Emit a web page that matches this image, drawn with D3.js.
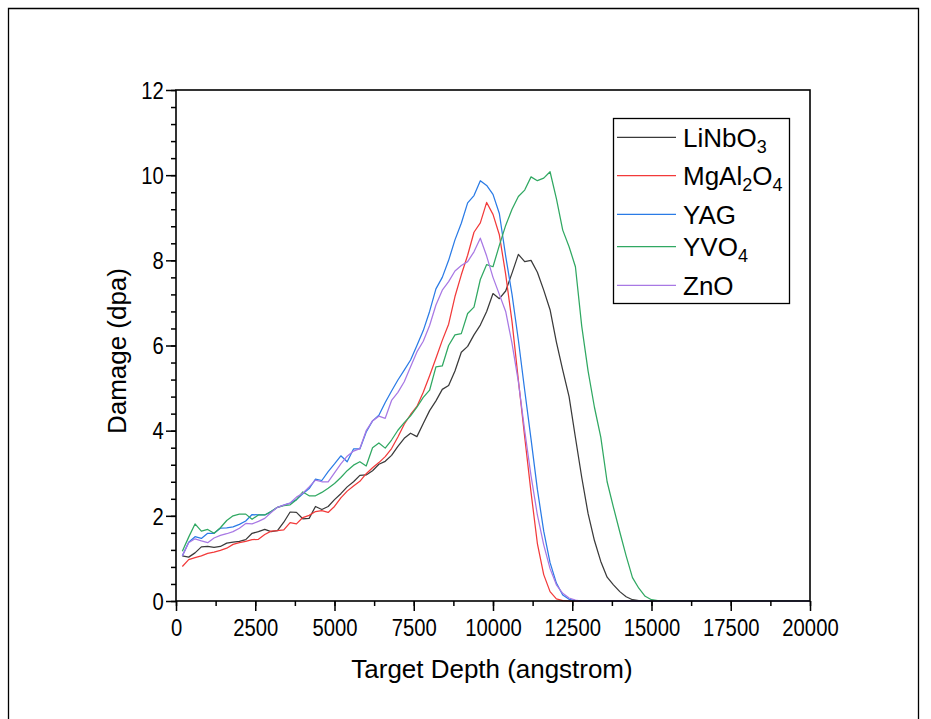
<!DOCTYPE html>
<html><head><meta charset="utf-8">
<script src="https://cdn.jsdelivr.net/npm/d3@7"></script>
<style>
html,body{margin:0;padding:0;background:#fff;}
text{font-family:"Liberation Sans",Arial,sans-serif;fill:#000;}
</style></head>
<body><svg id="chart" width="931" height="719"></svg>
<script>
const depth = [200,400,600,800,1000,1200,1400,1600,1800,2000,2200,2400,2600,2800,3000,3200,3400,3600,3800,4000,
4200,4400,4600,4800,5000,5200,5400,5600,5800,6000,6200,6400,6600,6800,7000,7200,7400,7600,7800,8000,
8200,8400,8600,8800,9000,9200,9400,9600,9800,10000,10200,10400,10600,10800,11000,11200,11400,11600,11800,12000,
12200,12400,12600,12800,13000,13200,13400,13600,13800,14000,14200,14400,14600,14800,15000,15200,15400,15600,15800,16000,
16200,16400,16600,16800,17000,17200,17400,17600,17800,18000,18200,18400,18600,18800,19000,19200,19400,19600,19800,20000];

const LiNbO3 = [1.06,1.03,1.13,1.27,1.28,1.26,1.28,1.36,1.38,1.40,1.44,1.59,1.63,1.68,1.63,1.65,1.85,2.09,2.08,1.93,
1.94,2.22,2.15,2.22,2.38,2.52,2.68,2.80,2.95,2.96,3.06,3.21,3.28,3.42,3.63,3.82,3.94,3.86,4.17,4.47,
4.70,4.97,5.06,5.40,5.84,5.98,6.25,6.48,6.80,7.22,7.10,7.28,7.70,8.14,7.97,8.00,7.72,7.30,6.84,6.08,
5.42,4.80,3.84,2.90,2.05,1.42,0.93,0.56,0.38,0.22,0.10,0.03,0.01,0,0,0,0,0,0,0,
0,0,0,0,0,0,0,0,0,0,0,0,0,0,0,0,0,0,0,0];

const MgAl2O4 = [0.81,0.97,1.02,1.06,1.12,1.15,1.19,1.24,1.33,1.37,1.40,1.44,1.45,1.56,1.64,1.65,1.67,1.84,1.81,1.96,
2.01,2.10,2.12,2.08,2.22,2.42,2.58,2.70,2.81,2.99,3.13,3.25,3.39,3.58,3.85,4.15,4.38,4.57,4.90,5.29,
5.70,6.12,6.50,7.15,7.66,8.12,8.66,8.88,9.36,9.08,8.60,7.67,6.56,5.19,3.85,2.55,1.35,0.62,0.22,0.05,
0.01,0,0,0,0,0,0,0,0,0,0,0,0,0,0,0,0,0,0,0,
0,0,0,0,0,0,0,0,0,0,0,0,0,0,0,0,0,0,0,0];

const YAG = [1.06,1.38,1.51,1.47,1.59,1.59,1.71,1.72,1.74,1.80,1.88,2.03,2.02,2.02,2.10,2.20,2.25,2.30,2.38,2.52,
2.64,2.86,2.83,3.04,3.22,3.41,3.27,3.57,3.57,3.97,4.23,4.36,4.66,4.93,5.19,5.42,5.66,6.00,6.35,6.80,
7.33,7.60,8.00,8.48,8.87,9.35,9.52,9.87,9.76,9.55,9.10,8.10,7.20,6.13,4.95,3.80,2.62,1.64,0.90,0.42,
0.14,0.04,0.01,0,0,0,0,0,0,0,0,0,0,0,0,0,0,0,0,0,
0,0,0,0,0,0,0,0,0,0,0,0,0,0,0,0,0,0,0,0];

const YVO4 = [1.17,1.50,1.81,1.64,1.68,1.59,1.72,1.89,2.00,2.04,2.04,1.92,2.02,2.02,2.10,2.20,2.24,2.26,2.38,2.56,
2.47,2.47,2.55,2.65,2.76,2.90,3.06,3.19,3.27,3.17,3.60,3.71,3.59,3.78,4.01,4.19,4.35,4.55,4.78,4.95,
5.50,5.52,6.00,6.25,6.28,6.75,6.90,7.55,7.90,7.85,8.35,8.82,9.20,9.50,9.65,9.96,9.87,9.93,10.08,9.45,
8.71,8.32,7.85,6.45,5.40,4.55,3.85,2.80,2.20,1.62,1.06,0.55,0.30,0.11,0.03,0.01,0,0,0,0,
0,0,0,0,0,0,0,0,0,0,0,0,0,0,0,0,0,0,0,0];

const ZnO = [1.06,1.37,1.46,1.41,1.37,1.48,1.54,1.58,1.63,1.71,1.82,1.81,1.87,1.94,2.08,2.20,2.25,2.30,2.44,2.53,
2.68,2.84,2.80,2.80,3.01,3.22,3.40,3.52,3.58,4.00,4.23,4.34,4.29,4.71,4.90,5.15,5.50,5.85,6.10,6.47,
6.95,7.30,7.50,7.75,7.88,7.97,8.20,8.52,8.10,7.60,7.20,6.80,6.05,5.15,4.00,2.94,2.02,1.32,0.76,0.38,
0.18,0.07,0.02,0,0,0,0,0,0,0,0,0,0,0,0,0,0,0,0,0,
0,0,0,0,0,0,0,0,0,0,0,0,0,0,0,0,0,0,0,0];

const seriesNames = ["LiNbO3","MgAl2O4","YAG","YVO4","ZnO"];
const seriesLabels = [["LiNbO","3"],["MgAl","2","O","4"],["YAG"],["YVO","4"],["ZnO"]];
const seriesValues = [LiNbO3, MgAl2O4, YAG, YVO4, ZnO];
const seriesColors = ["#3a3a3a","#f23a3a","#2a7be6","#30a862","#a878e4"];
const xTicks = [0,2500,5000,7500,10000,12500,15000,17500,20000];
const yTicks = [0,2,4,6,8,10,12];
const xTitle = "Target Depth (angstrom)";
const yTitle = "Damage (dpa)";

const svg = d3.select("#chart");
const L = 176, R = 810, T = 90, B = 601;
const x = d3.scaleLinear().domain([0,20000]).range([L,R]);
const y = d3.scaleLinear().domain([0,12]).range([B,T]);

// outer frame
svg.append("path").attr("d","M8.5,720 L8.5,8.5 L918.5,8.5 L918.5,720")
  .attr("fill","none").attr("stroke","#000").attr("stroke-width",1.3);

// series lines
const line = d3.line().x((d,i)=>x(depth[i])).y(d=>y(d));
const clipId = "plotclip";
svg.append("clipPath").attr("id",clipId).append("rect").attr("x",L).attr("y",T).attr("width",R-L).attr("height",B-T+1);
seriesValues.forEach((vals,k)=>{
  svg.append("path").datum(vals).attr("d",line).attr("fill","none")
    .attr("stroke",seriesColors[k]).attr("stroke-width",1.25).attr("stroke-linejoin","round")
    .attr("clip-path","url(#"+clipId+")");
});

// axes
const sx = 0.88; // narrow glyphs
const xAxisMinor = d3.axisBottom(x).tickValues(d3.range(0,20001,1250)).tickSize(5).tickFormat("");
const xAxis = d3.axisBottom(x).tickValues(xTicks).tickSize(10).tickPadding(9).tickFormat(d3.format("d"));
const yAxisMinor = d3.axisLeft(y).tickValues(d3.range(0,12.01,0.4)).tickSize(5).tickFormat("");
const yAxis = d3.axisLeft(y).tickValues(yTicks).tickSize(10).tickPadding(4).tickFormat(d3.format("d"));

function styleAxis(g){
  g.select(".domain").remove();
  g.selectAll("line").attr("stroke","#000").attr("stroke-width",1.5);
  g.selectAll("text").attr("font-size",23).attr("fill","#000");
}
svg.append("g").attr("transform",`translate(0,${B})`).call(xAxisMinor).call(styleAxis);
const gx = svg.append("g").attr("transform",`translate(0,${B})`).call(xAxis).call(styleAxis);
gx.selectAll("text").attr("transform",`scale(${sx},1)`);
svg.append("g").attr("transform",`translate(${L},0)`).call(yAxisMinor).call(styleAxis);
const gy = svg.append("g").attr("transform",`translate(${L},0)`).call(yAxis).call(styleAxis);
gy.selectAll("text").attr("transform",`scale(${sx},1)`).attr("dy","0.36em");

// plot frame
svg.append("rect").attr("x",L).attr("y",T).attr("width",R-L).attr("height",B-T)
  .attr("fill","none").attr("stroke","#000").attr("stroke-width",1.6);

// axis titles
svg.append("text").attr("transform",`translate(492,678) scale(0.98,1)`)
  .attr("text-anchor","middle").attr("font-size",26.5).text(xTitle);
svg.append("text").attr("transform",`translate(126,351) rotate(-90) scale(0.98,1)`)
  .attr("text-anchor","middle").attr("font-size",26.5).text(yTitle);

// legend
svg.append("rect").attr("x",613.5).attr("y",118.5).attr("width",176).attr("height",185)
  .attr("fill","#fff").attr("stroke","#000").attr("stroke-width",1.3);
const legY = [137.3,175.7,214.3,246.7,285.3];
seriesLabels.forEach((parts,k)=>{
  svg.append("line").attr("x1",617).attr("x2",676).attr("y1",legY[k]).attr("y2",legY[k])
    .attr("stroke",seriesColors[k]).attr("stroke-width",1.2);
  const t = svg.append("text").attr("transform",`translate(683,${legY[k]+9.5})`)
    .attr("font-size",26);
  parts.forEach((p,j)=>{
    const ts = t.append("tspan").text(p);
    if (j%2===1){ ts.attr("font-size",18).attr("dy",6); }
    else if (j>0){ ts.attr("dy",-6); }
  });
});
</script></body></html>
